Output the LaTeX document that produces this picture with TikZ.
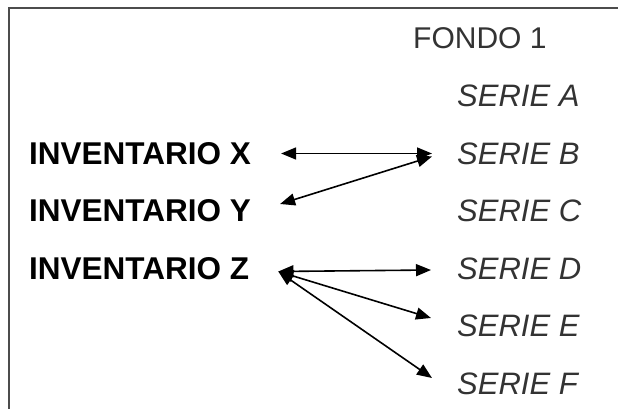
\documentclass[tikz,border=0pt]{standalone}
\usepackage{fontspec}
\setmainfont{Liberation Sans}
\usetikzlibrary{arrows.meta}

\tikzset{
    inv/.style={anchor=west, inner sep=0pt, font=\fontsize{31.5}{37}\selectfont\bfseries},
    serie/.style={anchor=west, inner sep=0pt, font=\fontsize{31}{37}\selectfont\itshape, text=black!80},
    fondo/.style={anchor=west, inner sep=0pt, font=\fontsize{30}{36}\selectfont, text=black!80},
    link/.style={{Triangle[length=15pt,width=12pt]}-{Triangle[length=15pt,width=12pt]}, line width=1.6pt},
    frame/.style={line width=2pt, black!70}
}

\begin{document}
\begin{tikzpicture}[x=1pt, y=-1pt]
        \useasboundingbox (0,0) rectangle (618,409);
        \clip (0,0) rectangle (618,409);

        % Frame (open to the right and bottom)
        \draw[frame] (620,8) -- (8.5,8) -- (8.5,411);

        % Fund and its series
        \node[fondo] (fondo) at (413,38.5) {FONDO 1};
        \node[serie] (sera) at (457,96) {SERIE A};
        \node[serie] (serb) at (457,153.5) {SERIE B};
        \node[serie] (serc) at (457,211) {SERIE C};
        \node[serie] (serd) at (457,268.5) {SERIE D};
        \node[serie] (sere) at (457,326) {SERIE E};
        \node[serie] (serf) at (457,383.5) {SERIE F};

        % Inventories
        \node[inv] (invx) at (29,153.5) {INVENTARIO X};
        \node[inv] (invy) at (29,211) {INVENTARIO Y};
        \node[inv] (invz) at (29,268.5) {INVENTARIO Z};

        % Links
        \draw[link] ([xshift=30pt]invx.east) -- ([xshift=-25pt]serb.west);
        \draw[link] ([xshift=29pt,yshift=7pt]invy.east) -- ([xshift=-25pt,yshift=-3pt]serb.west);
        \draw[link] ([xshift=29pt,yshift=-3pt]invz.east) -- ([xshift=-26pt,yshift=-1.5pt]serd.west);
        \draw[link] ([xshift=29pt,yshift=-3pt]invz.east) -- ([xshift=-26pt,yshift=8pt]sere.west);
        \draw[link] ([xshift=29pt,yshift=-3pt]invz.east) -- ([xshift=-25pt,yshift=5.5pt]serf.west);
    \end{tikzpicture}
\end{document}
